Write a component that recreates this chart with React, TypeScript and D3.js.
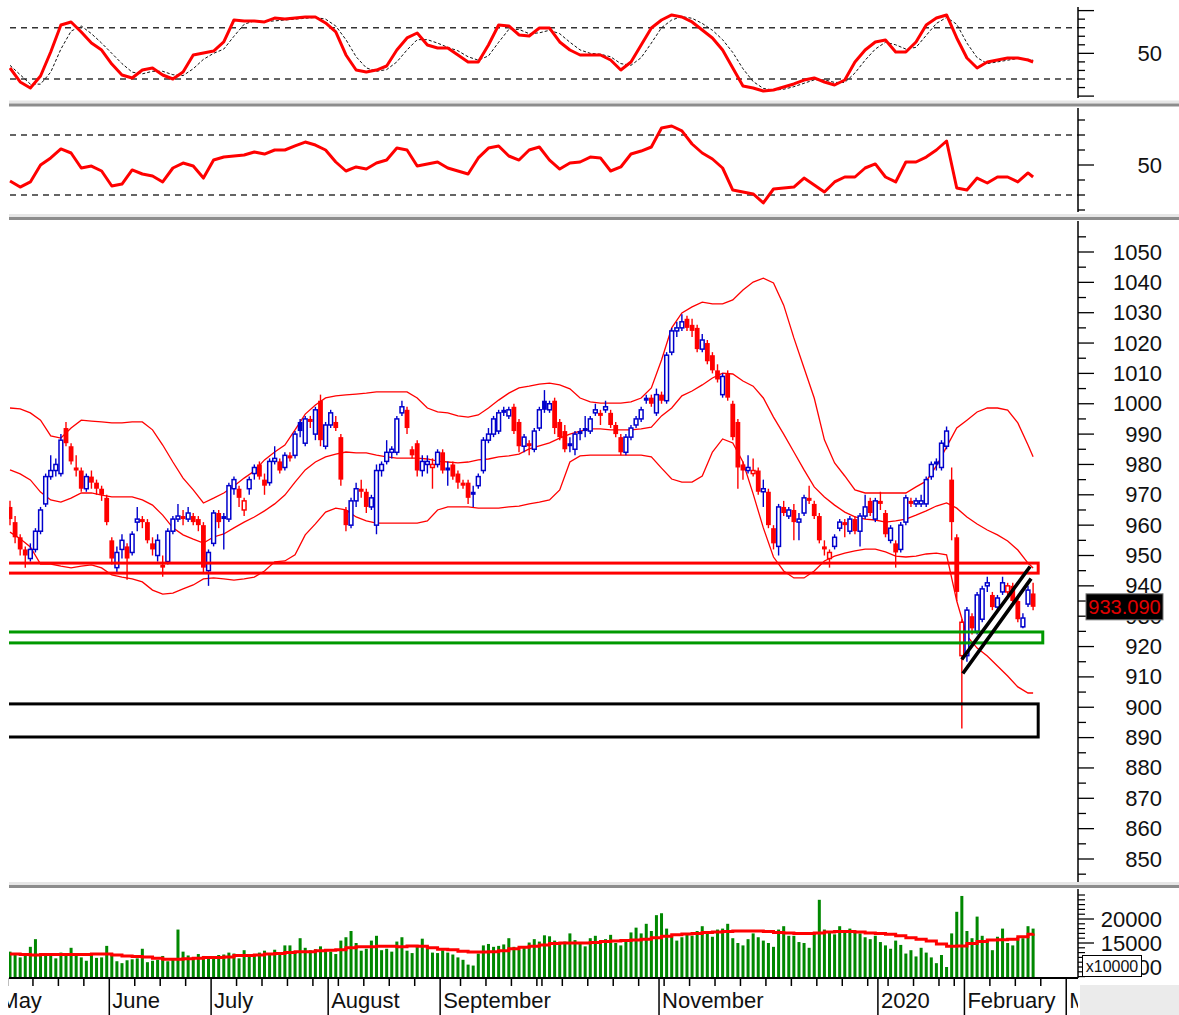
import React from "react";
import * as d3 from "d3";

// ---------- calendar ----------
const HOLIDAYS = ["2019-09-02", "2020-01-01", "2020-01-23", "2020-01-24", "2020-01-27", "2020-01-28", "2020-01-29"];
const CALENDAR_START = "2019-05-02";
const CALENDAR_END = "2020-03-13";
const FIRST_BAR_DATE = "2019-05-06";

const labeledMonths = ["2019-05", "2019-06", "2019-07", "2019-08", "2019-09", "2019-11", "2020-01", "2020-02", "2020-03"];
const monthLabels = ["May", "June", "July", "August", "September", "November", "2020", "February", "March"];

// ---------- price (OHLC) ----------
const opens = [
  966, 961, 956, 952, 949, 952, 958, 967, 976, 978, 977, 992, 986, 979, 978, 972, 976, 974, 972, 969,
  955, 946, 952, 953, 951, 961, 962, 961, 954, 950, 947, 948, 958, 962, 963, 962, 963, 962, 960, 945,
  954, 964, 963, 962, 972, 972, 965, 972, 977, 980, 975, 974, 981, 981, 979, 983, 983, 994, 987, 995,
  990, 1001, 986, 993, 994, 989, 965, 960, 968, 972, 971, 966, 960, 978, 981, 984, 984, 997, 998, 985,
  987, 978, 980, 979, 980, 984, 979, 980, 977, 974, 974, 971, 973, 978, 988, 990, 991, 998, 996, 999,
  994, 986, 987, 985, 992, 1001, 998, 1001, 994, 991, 987, 985, 991, 992, 991, 997, 997, 998, 997, 993,
  989, 984, 989, 993, 995, 1002, 1002, 997, 1003, 1001, 1017, 1024, 1025, 1028, 1026, 1025, 1018, 1020, 1016, 1011,
  1003, 1010, 1000, 994, 980, 978, 977, 978, 971, 971, 959, 953, 966, 963, 965, 961, 964, 969, 967, 963,
  953, 949, 953, 959, 961, 958, 962, 958, 963, 968, 962, 968, 964, 955, 954, 952, 961, 968, 967, 967,
  967, 976, 981, 979, 986, 975, 956, 917, 917, 930, 925, 929, 940, 937, 933, 938, 938, 940, 935, 926.5,
  934, 937.5,
];
const highs = [
  968, 963, 957, 953, 954, 959, 966, 977, 983, 982, 990, 994, 987, 983, 979, 977, 978, 975, 973, 970,
  956, 953, 957, 954, 958, 966, 963, 962, 956, 957, 950, 959, 963, 967, 965, 966, 964, 963, 961, 952,
  965, 965, 964, 974, 976, 973, 969, 976, 980, 981, 977, 982, 986, 982, 984, 984, 991, 995, 996, 996,
  999, 1003, 994, 998, 996, 990, 966, 969, 974, 975, 972, 970, 980, 981, 988, 986, 996, 1001, 999, 986,
  988, 983, 983, 982, 985, 985, 981, 981, 978, 975, 975, 973, 977, 989, 992, 996, 998, 999, 999, 1000,
  995, 990, 988, 992, 999, 1004.5, 1001, 1002, 995, 993, 989, 991, 992, 996, 996, 1000, 998, 1001, 998, 994,
  990, 990, 993, 996, 999, 1003, 1003, 1005, 1004, 1017, 1025, 1027, 1029.5, 1029, 1028, 1026, 1023, 1021, 1017, 1013,
  1010, 1011, 1001, 995, 981, 983, 982, 979, 975, 972, 960, 967, 968, 966, 967, 964, 970, 973, 968, 964,
  955, 952, 957, 962, 962, 963, 963, 964, 970, 969, 969, 971, 965, 960, 955, 961, 970, 969, 969, 970,
  976, 981, 982, 988, 992.5, 979, 957, 929, 933, 931, 938, 940, 943, 938, 937, 943, 941, 941, 936, 931,
  940, 941,
];
const lows = [
  960, 954, 950, 946, 948, 951, 957, 966, 975, 976, 976, 986, 980, 976, 971, 971, 972, 970, 968, 960,
  947, 944, 949, 942, 950, 958, 959, 954, 950, 948, 943, 947, 957, 961, 960, 961, 960, 958, 944, 940,
  953, 959, 952, 961, 970, 966, 963, 970, 975, 975, 970, 973, 980, 977, 978, 981, 982, 989, 986, 992,
  988, 986, 985, 992, 991, 973, 958, 959, 966, 969, 964, 965, 957, 976, 980, 982, 983, 996, 990, 982,
  976, 976, 977, 972, 979, 977, 973, 975, 972, 972, 967, 966, 972, 977, 987, 989, 990, 996, 995, 990,
  984, 984, 983, 984, 991, 997, 997, 990, 988, 984, 984, 983, 988, 989, 990, 996, 993, 997, 992, 989,
  983, 983, 988, 992, 994, 1000, 999, 996, 1000, 1000, 1016, 1022, 1024, 1024, 1022, 1017, 1017, 1013, 1010, 1007,
  1002, 1001, 988, 972, 975, 977, 976, 970, 966, 959, 952, 950, 963, 962, 955, 955, 963, 967, 962, 954,
  950, 946, 952, 958, 956, 957, 957, 953, 962, 963, 961, 965, 956, 954, 946, 951, 960, 966, 966, 966,
  966, 975, 978, 978, 985, 955, 935, 893, 915, 924, 924, 928, 938, 932, 932, 937, 937, 934, 928, 926,
  933, 932,
];
const closes = [
  962, 956, 952, 950, 952, 958, 965, 976, 978, 980, 988, 987, 981, 978, 972, 976, 974, 972, 970, 961,
  949, 951, 955, 949, 957, 962, 961, 955, 952, 955, 946, 958, 962, 963, 962, 964, 961, 960, 946, 951,
  964, 961, 962, 973, 975, 969, 968, 975, 979, 976, 973, 981, 982, 978, 983, 982, 990, 991, 995, 994,
  998, 988, 993, 997, 992, 975, 960, 968, 972, 971, 966, 969, 978, 980, 984, 985, 995, 999, 992, 983,
  978, 981, 981, 980, 984, 978, 978, 976, 974, 973, 969, 970, 976, 988, 990, 995, 997, 997, 998, 991,
  986, 989, 986, 991, 998, 998, 1000, 992, 989, 985, 986, 990, 990, 991, 995, 998, 996, 999, 993, 990,
  984, 989, 992, 995, 998, 1001, 1000, 1003, 1001, 1016, 1024, 1025, 1027, 1025, 1024, 1018, 1021, 1014, 1011, 1008,
  1009, 1002, 989, 979, 978, 979, 978, 971, 972, 960, 954, 966, 964, 965, 961, 962, 969, 968, 963, 955,
  952, 951, 956, 961, 960, 962, 958, 963, 966, 964, 968, 967, 957, 959, 951, 960, 969, 967, 968, 968,
  975, 980, 980, 987, 991, 961, 938, 928, 932, 926, 937, 939, 941, 933, 936, 941, 940, 935, 929, 929.4,
  938.6, 933.09,
];

// ---------- volume (x10000) ----------
const volumes = [
  13200, 12600, 12000, 12300, 14200, 15800, 12800, 12500, 12300, 11800, 13000, 12600, 14000, 12700, 12000, 11300, 12600, 11900, 12000, 14400,
  12800, 11200, 10800, 11400, 11600, 11800, 13800, 11000, 11300, 11500, 12300, 11200, 11600, 17800, 13200, 12400, 12000, 12700, 12300, 11800,
  12000, 12500, 12600, 13000, 12800, 11800, 13500, 12300, 12700, 13000, 13400, 12900, 13600, 13100, 14500, 14500, 13000, 16000, 14000, 13500, 13700, 14300, 13200,
  13200, 12700, 15500, 16200, 17500, 15000, 13400, 13800, 15500, 16500, 13500, 13800, 13200, 15300, 16200, 13400, 12900, 14300, 15900, 14000, 13000, 12900,
  13500, 13000, 12600, 12000, 11500, 10500, 10300, 12800, 14500, 14800, 14200, 14400, 14700, 16000, 14200, 13600, 14200, 15100, 15800, 15300,
  16600, 16400, 15500, 15000, 15300, 17000, 15600, 14900, 14300, 16000, 16500, 15200, 15800, 16700, 15000, 14500, 15700, 17200, 18200, 17000, 19000, 17500, 20800,
  21200, 18000, 16500, 15500, 16200, 16800, 16500, 17500, 18500, 17000, 16300, 17800, 18000, 19000, 16000, 15000, 14500, 15800, 17000, 16200, 15500,
  15000, 14200, 17800, 18500, 16500, 16500, 15200, 15000, 14000, 17000, 24000, 17800, 17500, 16800, 18500, 17200, 18000, 17500, 17000, 16200, 15800, 16500,
  15200, 14500, 13800, 15500, 14600, 12800, 13500, 12200, 14000, 13000, 12000, 10800, 12500, 10000, 17000, 21500, 24800,
  17500, 16000, 20500, 16500, 15500, 13500, 16300, 18000, 15000, 14500, 16200, 16000, 18500, 18000,
];

// ---------- indicator series, sampled every second bar (bars 0,2,...,200,201) ----------
const bbUpper = [
  998.6, 998.3, 997.0, 994.6, 989.4, 988.7, 992.0, 994.6, 994.3, 994.0,
  993.7, 993.7, 994.0, 994.0, 991.4, 986.4, 980.8, 975.5, 971.6, 967.3,
  968.9, 970.6, 972.9, 975.5, 977.8, 981.5, 984.1, 986.4, 991.4, 996.6,
  999.6, 1001.9, 1002.6, 1002.9, 1003.2, 1003.5, 1003.9, 1003.9, 1003.9, 1003.9,
  1001.9, 998.6, 997.3, 997.0, 996.0, 995.6, 996.3, 998.6, 1001.2, 1003.5,
  1005.2, 1005.8, 1006.5, 1006.8, 1006.2, 1004.9, 1001.9, 1000.6, 1000.2, 1000.2,
  1000.2, 1000.6, 1001.9, 1005.2, 1014.4, 1025.0, 1029.9, 1031.9, 1033.5, 1032.9,
  1032.9, 1034.2, 1037.5, 1040.1, 1041.4, 1039.8, 1032.5, 1021.7, 1011.8, 1001.9,
  988.1, 980.5, 976.2, 971.6, 970.6, 970.6, 970.6, 970.6, 970.6, 972.6,
  974.5, 979.5, 985.8, 992.0, 994.6, 997.3, 998.6, 998.6, 997.9, 993.7,
  986.4, 982.5,
];
const bbMiddle = [
  978.2, 976.9, 974.9, 970.9, 968.3, 967.6, 968.9, 970.6, 970.6, 969.9,
  969.3, 969.3, 969.3, 968.3, 966.6, 963.3, 959.1, 956.8, 955.4, 954.1,
  956.1, 957.1, 959.1, 961.0, 962.7, 964.7, 967.0, 969.9, 974.2, 978.2,
  980.8, 982.5, 983.4, 984.1, 983.8, 983.8, 983.1, 982.5, 982.1, 982.1,
  982.1, 981.8, 981.1, 980.8, 980.5, 980.8, 981.5, 981.8, 982.5, 982.8,
  983.4, 985.1, 986.1, 987.1, 988.7, 990.0, 991.0, 991.7, 991.7, 991.4,
  991.4, 991.4, 991.7, 992.3, 996.0, 998.6, 1002.6, 1004.2, 1006.2, 1008.5,
  1010.1, 1009.8, 1007.5, 1005.8, 1001.9, 995.6, 990.0, 984.1, 978.2, 972.6,
  969.3, 966.6, 964.3, 962.7, 962.0, 961.7, 961.0, 961.4, 962.0, 963.3,
  964.7, 966.3, 967.3, 965.6, 962.7, 960.4, 958.4, 956.8, 954.8, 951.8,
  947.5, 945.9,
];
const bbLower = [
  957.7, 955.5, 952.8, 947.2, 947.2, 946.5, 945.9, 946.5, 946.9, 945.9,
  943.6, 942.9, 942.3, 941.3, 938.6, 937.3, 937.6, 939.0, 940.3, 942.3,
  942.6, 942.3, 941.9, 942.3, 942.9, 944.9, 947.9, 948.2, 950.2, 956.8,
  960.4, 964.3, 965.6, 965.0, 962.7, 961.4, 960.7, 960.7, 960.7, 960.7,
  960.7, 961.4, 965.0, 966.0, 966.0, 966.0, 965.6, 965.6, 965.6, 966.0,
  966.3, 967.0, 967.6, 968.3, 971.6, 980.8, 982.8, 983.1, 983.1, 983.1,
  983.1, 983.1, 983.1, 982.5, 978.8, 975.2, 974.2, 974.2, 976.2, 984.1,
  988.4, 987.1, 980.8, 970.3, 959.1, 949.5, 944.9, 942.6, 942.6, 944.9,
  948.2, 949.8, 950.8, 951.5, 952.1, 952.1, 951.2, 949.8, 949.5, 949.8,
  950.5, 950.8, 950.2, 935.0, 923.5, 919.5, 916.9, 913.6, 910.3, 906.7,
  904.7, 904.7,
];
const stochK = [
  32.9, 16.5, 9.5, 23.5, 51.6, 83.2, 86.7, 75.0, 62.1, 53.9,
  37.5, 24.7, 21.2, 30.5, 32.9, 24.7, 20.0, 28.2, 48.1, 50.4,
  52.7, 63.3, 89.0, 87.8, 87.8, 86.7, 91.3, 90.2, 91.3, 92.5,
  92.5, 85.5, 75.0, 48.1, 30.5, 28.2, 30.5, 35.2, 53.9, 68.0,
  73.8, 59.8, 56.3, 56.3, 48.1, 39.9, 39.9, 59.8, 83.2, 82.0,
  71.5, 70.3, 79.6, 79.6, 63.3, 53.9, 48.1, 48.1, 48.1, 42.2,
  30.5, 39.9, 59.8, 79.6, 89.0, 94.9, 92.5, 86.7, 77.3, 68.0,
  53.9, 32.9, 11.8, 9.5, 6.0, 7.1, 10.6, 14.2, 18.8, 21.2,
  16.5, 13.0, 18.8, 39.9, 53.9, 63.3, 65.6, 51.6, 51.6, 63.3,
  83.2, 91.3, 94.9, 68.0, 44.6, 32.9, 39.9, 42.2, 44.6, 44.6,
  42.2, 39.9,
];
const stochD = [
  36, 25, 14, 14, 28, 55, 76, 82, 73, 62,
  50, 38, 28, 26, 29, 29, 25, 24, 32, 43,
  50, 55, 70, 84, 88, 87, 88, 89, 90, 91,
  92, 90, 82, 66, 46, 33, 29, 31, 40, 54,
  66, 66, 62, 57, 53, 46, 42, 47, 63, 78,
  78, 73, 74, 77, 73, 63, 54, 50, 49, 46,
  38, 36, 45, 62, 80, 89, 93, 91, 85, 77,
  66, 51, 32, 17, 9, 7, 8, 11, 15, 19,
  19, 16, 16, 27, 42, 55, 63, 60, 55, 57,
  71, 85, 92, 84, 62, 45, 38, 40, 42, 44,
  43, 42,
];
const rsi = [
  39.3, 35.3, 38.7, 50.0, 54.7, 60.7, 58.0, 48.0, 49.3, 46.0,
  36.0, 37.3, 46.7, 44.0, 42.7, 38.7, 48.0, 51.3, 49.3, 41.3,
  53.3, 55.3, 56.0, 56.7, 58.7, 57.3, 60.0, 60.0, 62.7, 65.3,
  63.3, 60.0, 52.0, 46.0, 48.7, 47.3, 51.3, 53.3, 61.3, 60.0,
  49.3, 50.7, 52.0, 48.0, 46.0, 44.0, 54.7, 61.3, 62.7, 56.0,
  53.3, 60.0, 62.0, 53.3, 47.3, 51.3, 52.0, 55.3, 54.7, 46.0,
  48.7, 57.3, 59.3, 62.0, 74.7, 76.0, 72.7, 64.0, 58.0, 54.0,
  48.0, 33.3, 32.0, 30.7, 24.7, 34.0, 34.7, 35.3, 41.3, 36.7,
  32.0, 38.7, 42.0, 42.0, 48.0, 50.7, 42.0, 38.7, 52.0, 52.0,
  55.3, 60.0, 66.0, 34.7, 33.3, 41.3, 38.0, 42.0, 42.0, 38.7,
  44.7, 42.0,
];
const volumeMA = [
  12700, 12600, 12500, 12600, 12600, 12600, 12600, 12600, 12700, 12700,
  12500, 12300, 12200, 12100, 11800, 11600, 11600, 11700, 11800, 12000,
  12000, 12100, 12400, 12400, 12500, 12700, 12800, 13000, 13200, 13200,
  13400, 13500, 13600, 14000, 14200, 14200, 14300, 14300, 14200, 14400,
  14300, 14000, 13700, 13600, 13300, 13100, 13100, 13200, 13400, 13800,
  14100, 14300, 14600, 14900, 15000, 15000, 15000, 15100, 15300, 15400,
  15500, 15600, 15800, 16100, 16400, 16700, 16900, 17000, 17200, 17300,
  17400, 17500, 17500, 17500, 17400, 17200, 17100, 17000, 17000, 17100,
  17300, 17400, 17400, 17300, 17100, 17000, 16800, 16500, 16100, 15800,
  15400, 14800, 14300, 14400, 14900, 15300, 15600, 15700, 15800, 16300,
  16800, 17000,
];

// ---------- axis ticks / levels / annotations ----------
const priceTicks = [850, 860, 870, 880, 890, 900, 910, 920, 930, 940, 950, 960, 970, 980, 990, 1000, 1010, 1020, 1030, 1040, 1050];
const priceMinorTicks = [845, 855, 865, 875, 885, 895, 905, 915, 925, 935, 945, 955, 965, 975, 985, 995, 1005, 1015, 1025, 1035, 1045, 1055];
const stochTicks = [0, 10, 20, 30, 40, 50, 60, 70, 80, 90, 100];
const stochLevels = [20, 80];
const rsiTicks = [20, 30, 40, 50, 60, 70, 80];
const rsiLevels = [30, 70];
const volumeTicks = [10000, 15000, 20000];
const volumeMinorTicks = [8000, 9000, 11000, 12000, 13000, 14000, 16000, 17000, 18000, 19000, 21000, 22000, 23000, 24000, 25000];
const lastPrice = 933.09;
const lastPriceText = "933.090";
const volumeUnitText = "x10000";

const zoneLow = [944.2, 921.2, 890.2];
const zoneHigh = [947.5, 924.8, 901.1];
const zoneEndBar = [202.0, 202.9, 202.0];

const trendStartBar = [187.2, 187.4];
const trendStartValue = [916.2, 911.6];
const trendEndBar = [200.2, 200.4];
const trendEndValue = [945.9, 941.9];

const RED = "#ff0000";
const BLUE = "#0000cc";
const GREEN = "#008800";
const FONT = "'Liberation Sans', Arial, Helvetica, sans-serif";

function tradingDays(start: string, end: string, holidays: string[]): Date[] {
  const hs = new Set(holidays);
  const fmt = d3.utcFormat("%Y-%m-%d");
  const out: Date[] = [];
  const endD = new Date(end + "T00:00:00Z");
  for (let d = new Date(start + "T00:00:00Z"); d <= endD; d = d3.utcDay.offset(d, 1)) {
    const wd = d.getUTCDay();
    if (wd === 0 || wd === 6) continue;
    if (hs.has(fmt(d))) continue;
    out.push(d);
  }
  return out;
}

export default function App() {
  const n = closes.length;
  const sampleIdx = [...d3.range(0, n - 1, 2), n - 1];

  const x = d3.scaleLinear().domain([0, n - 1]).range([10, 1033.1]);
  const yP = d3.scaleLinear().domain([850, 1050]).range([859, 252]);
  const yS = d3.scaleLinear().domain([0, 100]).range([96.1, 10.6]);
  const yR = d3.scaleLinear().domain([30, 70]).range([195, 135]);
  const yV = d3.scaleLinear().domain([10000, 20000]).range([967, 919]);

  const fmtDay = d3.utcFormat("%Y-%m-%d");
  const fmtMonth = d3.utcFormat("%Y-%m");
  const cal = tradingDays(CALENDAR_START, CALENDAR_END, HOLIDAYS);
  const off = cal.findIndex((d) => fmtDay(d) === FIRST_BAR_DATE);

  type Tick = { x: number; long: boolean; label?: string };
  const xTicks: Tick[] = [];
  cal.forEach((d, k) => {
    const prev = k > 0 ? cal[k - 1] : null;
    const newMonth = !prev || d.getUTCMonth() !== prev.getUTCMonth();
    const newWeek = !prev || d3.utcMonday.floor(d).getTime() !== d3.utcMonday.floor(prev).getTime();
    const px = x(k - off) - 2.5;
    const li = labeledMonths.indexOf(fmtMonth(d));
    if (newMonth && li >= 0) xTicks.push({ x: px, long: true, label: monthLabels[li] });
    else if (newMonth || newWeek) xTicks.push({ x: px, long: false });
  });

  const sampledLine = (ys: d3.ScaleLinear<number, number>, curve = d3.curveLinear) =>
    d3.line<number>().x((_, k) => x(sampleIdx[k])).y((v) => ys(v)).curve(curve);

  const bandLine = sampledLine(yP);
  const stochLine = sampledLine(yS);
  const rsiLine = sampledLine(yR);
  const volMaLine = sampledLine(yV, d3.curveStepAfter);

  const AX = 1078;

  const separator = (y: number, key: string) => (
    <g key={key}>
      <rect x={9} y={y - 3} width={1170} height={3} fill="#e6e6e6" />
      <rect x={9} y={y} width={1170} height={3} fill="#8c8c8c" />
    </g>
  );

  return (
    <div style={{ position: "absolute", left: 0, top: 0, width: 1179, height: 1015, background: "#fff" }}>
      <svg width={1179} height={1015} style={{ display: "block" }} fontFamily={FONT}>
        <defs>
          <clipPath id="cp1"><rect x={9} y={3} width={AX - 9} height={97} /></clipPath>
          <clipPath id="cp2"><rect x={9} y={107} width={AX - 9} height={107} /></clipPath>
          <clipPath id="cpm"><rect x={9} y={220} width={AX - 9} height={663} /></clipPath>
          <clipPath id="cpv"><rect x={9} y={889} width={AX - 9} height={89} /></clipPath>
          <clipPath id="cpx"><rect x={8} y={976} width={AX - 8} height={40} /></clipPath>
        </defs>
        <rect x={0} y={0} width={1179} height={1015} fill="#fff" />

        {/* ---------- Panel 1: stochastic ---------- */}
        <g clipPath="url(#cp1)">
          {stochLevels.map((v) => (
            <line key={v} x1={10} x2={AX} y1={yS(v)} y2={yS(v)} stroke="#333" strokeWidth={1.6} strokeDasharray="6,5" />
          ))}
          <path d={stochLine(stochD) || ""} fill="none" stroke="#111" strokeWidth={1} strokeDasharray="3,2" />
          <path d={stochLine(stochK) || ""} fill="none" stroke={RED} strokeWidth={3} strokeLinejoin="round" />
        </g>
        <line x1={AX} x2={AX} y1={7} y2={98} stroke="#000" strokeWidth={1.5} />
        {stochTicks.map((v) => (
          <line key={v} x1={AX} x2={v % 50 === 0 ? AX + 16 : AX + 7} y1={yS(v)} y2={yS(v)} stroke="#000" strokeWidth={1.3} />
        ))}
        <text x={1162} y={yS(50)} textAnchor="end" dominantBaseline="central" fontSize={22} fill="#111">50</text>
        {separator(103.5, "s1")}

        {/* ---------- Panel 2: RSI ---------- */}
        <g clipPath="url(#cp2)">
          {rsiLevels.map((v) => (
            <line key={v} x1={10} x2={AX} y1={yR(v)} y2={yR(v)} stroke="#333" strokeWidth={1.6} strokeDasharray="6,5" />
          ))}
          <path d={rsiLine(rsi) || ""} fill="none" stroke={RED} strokeWidth={3} strokeLinejoin="round" />
        </g>
        <line x1={AX} x2={AX} y1={108} y2={212} stroke="#000" strokeWidth={1.5} />
        {rsiTicks.map((v) => (
          <line key={v} x1={AX} x2={v === 50 ? AX + 16 : AX + 7} y1={yR(v)} y2={yR(v)} stroke="#000" strokeWidth={1.3} />
        ))}
        <text x={1162} y={yR(50)} textAnchor="end" dominantBaseline="central" fontSize={22} fill="#111">50</text>
        {separator(217, "s2")}

        {/* ---------- Main price panel ---------- */}
        <g clipPath="url(#cpm)">
          {[bbUpper, bbMiddle, bbLower].map((s, k) => (
            <path key={k} d={bandLine(s) || ""} fill="none" stroke={RED} strokeWidth={1.3} />
          ))}
          {closes.map((c, i) => {
            const o = opens[i];
            const prev = i > 0 ? closes[i - 1] : o;
            const col = c >= prev ? BLUE : RED;
            const hollow = c > o;
            const cx = x(i);
            const top = yP(Math.max(o, c));
            const bh = Math.max(1.3, yP(Math.min(o, c)) - top);
            return (
              <g key={i}>
                <line x1={cx} x2={cx} y1={yP(highs[i])} y2={yP(lows[i])} stroke={col} strokeWidth={1.4} />
                {hollow ? (
                  <rect x={cx - 1.9} y={top} width={3.8} height={bh} fill="#fff" stroke={col} strokeWidth={1.5} />
                ) : (
                  <rect x={cx - 2.4} y={top} width={4.8} height={bh} fill={col} />
                )}
              </g>
            );
          })}
          {zoneLow.map((lo, k) => {
            const x0 = x(-10);
            const x1 = x(zoneEndBar[k]);
            const col = k === 0 ? RED : k === 1 ? "#009900" : "#000";
            return (
              <rect key={k} x={x0} y={yP(zoneHigh[k])} width={x1 - x0} height={yP(lo) - yP(zoneHigh[k])}
                fill="none" stroke={col} strokeWidth={3} />
            );
          })}
          {trendStartBar.map((sb, k) => (
            <line key={k} x1={x(sb)} y1={yP(trendStartValue[k])} x2={x(trendEndBar[k])} y2={yP(trendEndValue[k])}
              stroke="#000" strokeWidth={3.6} strokeLinecap="square" />
          ))}
        </g>
        <line x1={AX} x2={AX} y1={221} y2={884} stroke="#000" strokeWidth={1.5} />
        {priceMinorTicks.map((v) => (
          <line key={"m" + v} x1={AX} x2={AX + 8} y1={yP(v)} y2={yP(v)} stroke="#000" strokeWidth={1.3} />
        ))}
        {priceTicks.map((v) => (
          <g key={v}>
            <line x1={AX} x2={AX + 16} y1={yP(v)} y2={yP(v)} stroke="#000" strokeWidth={1.3} />
            <text x={1162} y={yP(v)} textAnchor="end" dominantBaseline="central" fontSize={22} fill="#111">{v}</text>
          </g>
        ))}
        <rect x={1086} y={yP(lastPrice) - 13} width={77} height={26} fill="#000" stroke="#777" strokeWidth={1} />
        <text x={1124.5} y={yP(lastPrice) + 0.5} textAnchor="middle" dominantBaseline="central" fontSize={20} fill="#e00000">
          {lastPriceText}
        </text>
        {separator(885, "s3")}

        {/* ---------- Volume panel ---------- */}
        <g clipPath="url(#cpv)">
          {volumes.map((v, i) => (
            <rect key={i} x={x(i) - 1.5} y={yV(v)} width={3} height={978 - yV(v)} fill={GREEN} />
          ))}
          <path d={volMaLine(volumeMA) || ""} fill="none" stroke={RED} strokeWidth={3} />
        </g>
        <line x1={AX} x2={AX} y1={889} y2={978} stroke="#000" strokeWidth={1.5} />
        {volumeMinorTicks.map((v) => (
          <line key={"vm" + v} x1={AX} x2={AX + 7} y1={yV(v)} y2={yV(v)} stroke="#000" strokeWidth={1.2} />
        ))}
        {volumeTicks.map((v) => (
          <g key={v}>
            <line x1={AX} x2={AX + 16} y1={yV(v)} y2={yV(v)} stroke="#000" strokeWidth={1.3} />
            <text x={1162} y={yV(v)} textAnchor="end" dominantBaseline="central" fontSize={22} fill="#111">{v}</text>
          </g>
        ))}
        <rect x={1082.5} y={955.5} width={59} height={21} fill="#fff" stroke="#000" strokeWidth={1} />
        <text x={1112} y={966.5} textAnchor="middle" dominantBaseline="central" fontSize={16} fill="#111">{volumeUnitText}</text>

        {/* ---------- X axis ---------- */}
        <rect x={1080} y={985} width={99} height={30} fill="#ebebeb" />
        <line x1={9} x2={AX} y1={978} y2={978} stroke="#000" strokeWidth={2} />
        <g clipPath="url(#cpx)">
          {xTicks.map((t, k) => (
            <g key={k}>
              <line x1={t.x} x2={t.x} y1={978} y2={t.long ? 1015 : 986} stroke="#000" strokeWidth={1.5} />
              {t.label && (
                <text x={t.x + 3} y={1008} fontSize={22} fill="#111">{t.label}</text>
              )}
            </g>
          ))}
        </g>
      </svg>
    </div>
  );
}
